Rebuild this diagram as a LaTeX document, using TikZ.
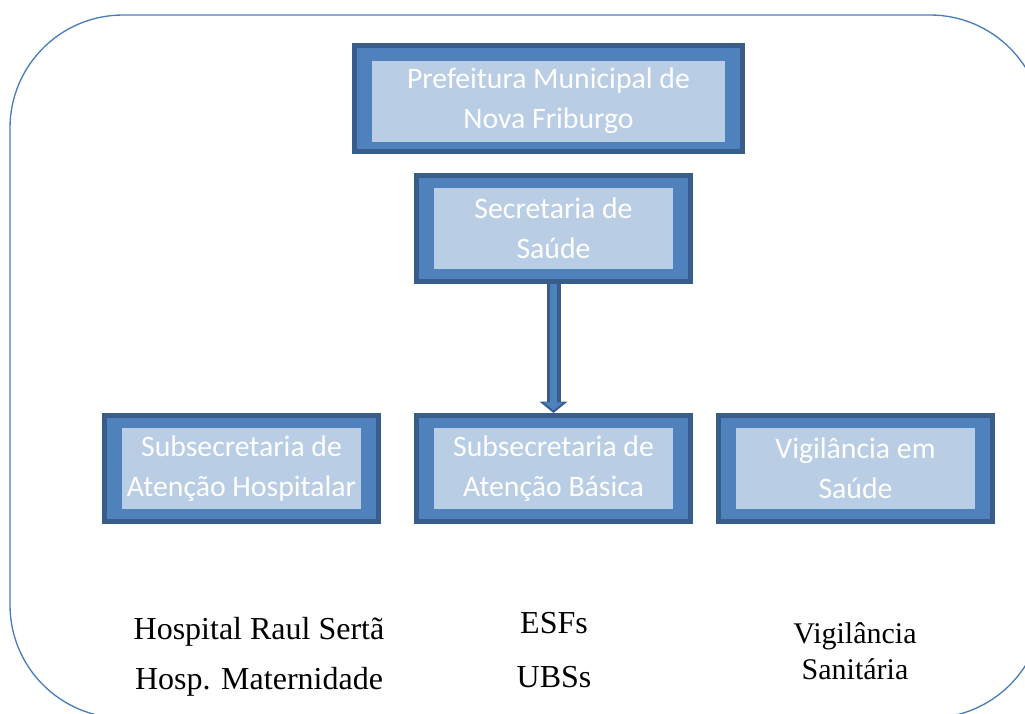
\documentclass[tikz,border=0pt]{standalone}
\usepackage{fontspec}
\setmainfont{Liberation Serif}
\newfontfamily\boxfont{Carlito}
\usetikzlibrary{arrows.meta}
\definecolor{boxdark}{HTML}{385D8A}
\definecolor{boxmid}{HTML}{4F81BD}
\definecolor{boxlight}{HTML}{B9CDE5}
\definecolor{framecol}{HTML}{4A7EBB}

\begin{document}
\begin{tikzpicture}[x=0.75pt, y=-0.75pt,
  outbox/.style={draw=boxdark, fill=boxmid, line width=3.75pt,
    minimum width=205.5pt, minimum height=79.5pt, inner sep=0pt},
  inbox/.style={fill=boxlight, inner sep=0pt, minimum width=179.25pt,
    minimum height=60.75pt, align=center, text=white,
    font=\boxfont\fontsize{22.3}{30}\selectfont},
  note/.style={align=center, text=black, inner sep=0pt},
  arrowout/.style={draw=boxdark, line width=10.5pt,
    -{Triangle[length=8.5pt 0, width=20.5pt 0]}},
  arrowin/.style={draw=boxmid, line width=5.5pt, shorten >=2pt,
    -{Triangle[length=6pt 0, width=14pt 0]}}]
  \clip (0,0) rectangle (1025,714);
  \draw[framecol, line width=1pt, rounded corners=84.75pt] (10,15) rectangle (1043,718);

  % top of the chart
  \node[outbox, minimum width=291pt] (pref) at (548.5,98.5) {};
  \node[inbox, minimum width=264.75pt] (prefIn) at ([yshift=-2pt]pref) {Prefeitura Municipal de\\Nova Friburgo};
  \node[outbox] (sec) at (553.5,228) {};
  \node[inbox] (secIn) at (sec) {Secretaria de\\Saúde};

  % the three subsecretarias
  \node[outbox] (hosp) at (241.5,468.5) {};
  \node[inbox] (hospIn) at (hosp) {Subsecretaria de\\Atenção Hospitalar};
  \node[outbox] (bas) at (553.5,468.5) {};
  \node[inbox] (basIn) at (bas) {Subsecretaria de\\Atenção Básica};
  \node[outbox] (vig) at (855.5,468.5) {};
  \node[inbox] (vigIn) at (vig) {Vigilância em\\Saúde};

  \draw[arrowout] (sec.south) -- (bas.north);
  \draw[arrowin] (sec.south) -- (bas.north);

  % units under each box
  \node[note, font=\fontsize{24}{37.5}\selectfont] (hospList) at (259,657) {Hospital Raul Sertã\\Hosp. Maternidade};
  \node[note, font=\fontsize{24}{40.5}\selectfont] (basList) at (554,650) {ESFs\\UBSs};
  \node[note, font=\fontsize{22.5}{27}\selectfont] (vigList) at (855,651) {Vigilância\\Sanitária};
\end{tikzpicture}
\end{document}
